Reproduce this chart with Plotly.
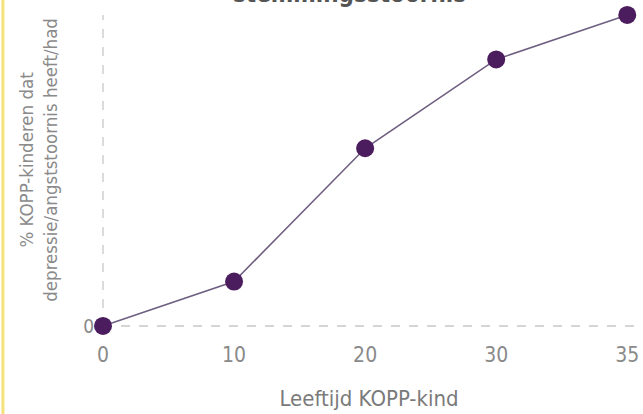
import plotly.graph_objects as go

ages = ["0", "10", "20", "30", "35"]
percent = [0, 5, 20, 30, 35]
y_tick_labels = ["0"]
title_text = "stemmingsstoornis"
x_title = "Leeftijd KOPP-kind"
y_title = "% KOPP-kinderen dat<br>depressie/angststoornis heeft/had"

FONT = "DejaVu Sans Condensed, Liberation Sans Narrow, DejaVu Sans, sans-serif"
positions = list(range(len(ages)))

fig = go.Figure()
fig.add_trace(go.Scatter(
    x=positions, y=percent, mode="lines+markers",
    line=dict(color="#6f5f80", width=1.6),
    marker=dict(color="#4b1d5e", size=18),
    cliponaxis=False, showlegend=False,
))

fig.update_layout(
    width=643, height=414,
    margin=dict(l=95, r=0, t=10, b=74, autoexpand=False),
    paper_bgcolor="white", plot_bgcolor="white",
    font=dict(family=FONT, color="#8a8a8a"),
    xaxis=dict(
        range=[-0.061, 4.12], tickvals=positions, ticktext=ages,
        showgrid=False, zeroline=False, showline=False, automargin=False,
        tickfont=dict(size=21, color="#8a8a8a"), ticks="",
        title=dict(text=x_title, font=dict(size=22, color="#7a7a7a"), standoff=24),
    ),
    yaxis=dict(
        range=[-1.58, 35.56], tickvals=[0], ticktext=y_tick_labels,
        showgrid=False, zeroline=False, showline=False, automargin=False,
        tickfont=dict(size=19, color="#8a8a8a"), ticks="",
    ),
    shapes=[
        dict(type="line", xref="x", yref="y", x0=0, x1=4.1, y0=0, y1=0,
             line=dict(color="#c8c8c8", width=1.5, dash="dash"), layer="below"),
        dict(type="line", xref="x", yref="y", x0=0, x1=0, y0=0, y1=35,
             line=dict(color="#d0d0d0", width=1.5, dash="dash"), layer="below"),
        dict(type="line", xref="paper", yref="paper", x0=-0.168, x1=-0.168, y0=-0.3, y1=1.1,
             line=dict(color="#f5e27a", width=3)),
    ],
    annotations=[
        dict(text="<b>" + title_text + "</b>", xref="paper", yref="paper", x=0.465, y=1,
             xanchor="center", yanchor="bottom", yshift=0, showarrow=False,
             font=dict(size=24, color="#555555")),
        dict(text=y_title, xref="paper", yref="paper", x=-0.103, y=0.545,
             xanchor="center", yanchor="middle", textangle=-90, showarrow=False,
             font=dict(size=18.5, color="#8a8a8a")),
    ],
)

fig.write_html("out.html", config={"displayModeBar": False},
               post_script="document.body.style.margin='0';")
